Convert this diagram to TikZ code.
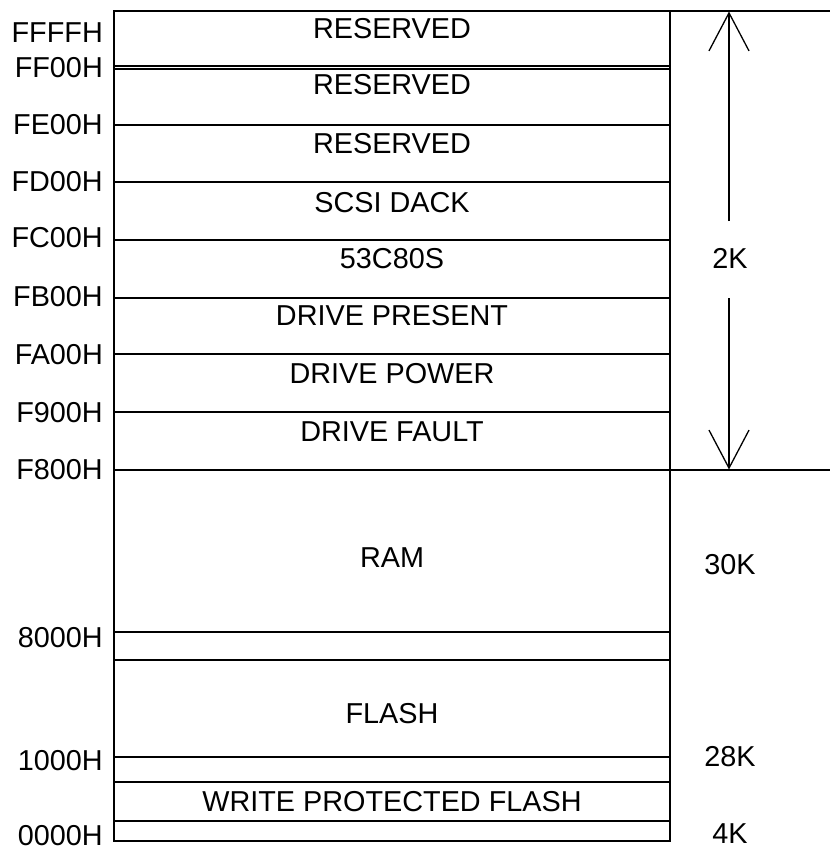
\documentclass[tikz,border=0pt]{standalone}
\usepackage{fontspec}
\setmainfont{Liberation Sans}
\usetikzlibrary{arrows.meta}
\begin{document}
\begin{tikzpicture}[x=1pt,y=-1pt,
  box/.style={line width=2pt},
  dim/.style={line width=1.3pt},
  lbl/.style={font=\fontsize{28.8}{34}\selectfont, inner sep=0pt, text height=20.6pt, text depth=0pt},
  addr/.style={lbl, anchor=east},
  tip/.style={-{Straight Barb[length=38pt,width=40pt,line width=1.3pt]}}]
\useasboundingbox (0,0) rectangle (830,851);
% outer frame
\draw[box] (114,11) rectangle (670,841);
% dividers
\foreach \yy in {66,69,125,182,240,298,354,412,470,632,660,757,782,821}
  \draw[box] (114,\yy) -- (670,\yy);
% extension lines
\coordinate (e1) at (670,11);
\coordinate (e1r) at (830,11);
\coordinate (e2) at (670,470);
\coordinate (e2r) at (830,470);
\draw[dim] (e1) -- (e1r);
\draw[dim] (e2) -- (e2r);
% dimension arrow
\coordinate (atop) at (729,11.5);
\coordinate (a1) at (729,221);
\coordinate (a2) at (729,298);
\coordinate (abot) at (729,469.5);
\draw[dim,tip] (a1) -- (atop);
\draw[dim,tip] (a2) -- (abot);
% box texts
\node[lbl] (r1) at (392,28) {RESERVED};
\node[lbl] (r2) at (392,84) {RESERVED};
\node[lbl] (r3) at (392,143) {RESERVED};
\node[lbl] (scsi) at (392,202) {SCSI DACK};
\node[lbl] (c80) at (392,258) {53C80S};
\node[lbl] (dpres) at (392,315) {DRIVE PRESENT};
\node[lbl] (dpow) at (392,373) {DRIVE POWER};
\node[lbl] (dfault) at (392,431) {DRIVE FAULT};
\node[lbl] (ram) at (392,557) {RAM};
\node[lbl] (flash) at (392,713) {FLASH};
\node[lbl] (wpf) at (392,801) {WRITE PROTECTED FLASH};
% sizes
\node[lbl] (k2) at (730,258) {2K};
\node[lbl] (k30) at (730,564) {30K};
\node[lbl] (k28) at (730,756) {28K};
\node[lbl] (k4) at (730,833) {4K};
% addresses
\node[addr] (aFFFF) at (103,32) {FFFFH};
\node[addr] (aFF00) at (103,67) {FF00H};
\node[addr] (aFE00) at (103,124) {FE00H};
\node[addr] (aFD00) at (103,181) {FD00H};
\node[addr] (aFC00) at (103,237) {FC00H};
\node[addr] (aFB00) at (103,296) {FB00H};
\node[addr] (aFA00) at (103,354) {FA00H};
\node[addr] (aF900) at (103,412) {F900H};
\node[addr] (aF800) at (103,469) {F800H};
\node[addr] (a8000) at (103,637) {8000H};
\node[addr] (a1000) at (103,760) {1000H};
\node[addr] (a0000) at (103,835) {0000H};
\end{tikzpicture}
\end{document}
